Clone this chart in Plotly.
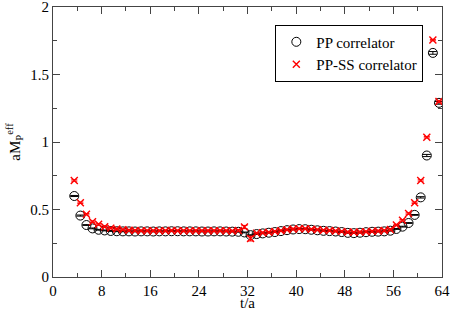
import plotly.graph_objects as go

t = [i + 0.5 for i in range(3, 64)]

pp = [0.600, 0.455, 0.385, 0.360, 0.350, 0.345, 0.341, 0.339, 0.338, 0.338,
      0.337, 0.338, 0.338, 0.337, 0.338, 0.338, 0.339, 0.339, 0.338, 0.338,
      0.338, 0.337, 0.337, 0.338, 0.338, 0.337, 0.336, 0.335, 0.330, 0.310,
      0.318, 0.323, 0.328, 0.333, 0.340, 0.347, 0.352, 0.355, 0.354, 0.350,
      0.346, 0.342, 0.340, 0.337, 0.333, 0.327, 0.325, 0.328, 0.332, 0.335,
      0.336, 0.338, 0.343, 0.356, 0.373, 0.400, 0.460, 0.590, 0.900, 1.660,
      1.290]
pp_err = [0.004, 0.004] + [0.003] * 55 + [0.005, 0.008, 0.010, 0.010]

ppss = [0.715, 0.550, 0.465, 0.410, 0.390, 0.373, 0.362, 0.355, 0.350, 0.346,
        0.344, 0.343, 0.343, 0.342, 0.343, 0.343, 0.344, 0.343, 0.343, 0.342,
        0.343, 0.342, 0.342, 0.343, 0.343, 0.342, 0.341, 0.345, 0.370, 0.285,
        0.325, 0.328, 0.332, 0.337, 0.343, 0.350, 0.355, 0.358, 0.357, 0.354,
        0.350, 0.346, 0.344, 0.341, 0.338, 0.333, 0.331, 0.333, 0.336, 0.339,
        0.341, 0.344, 0.352, 0.385, 0.420, 0.470, 0.550, 0.715, 1.035, 1.755,
        1.300]
ppss_err = [0.005] * 28 + [0.012, 0.018] + [0.005] * 31

xticks = [0, 8, 16, 24, 32, 40, 48, 56, 64]
yticks = [0, 0.5, 1, 1.5, 2]
ytick_labels = ["0", "0.5", "1", "1.5", "2"]

FONT = "Liberation Serif"

fig = go.Figure()
fig.add_trace(go.Scatter(
    x=t, y=pp, mode="markers", name="PP correlator",
    marker=dict(symbol="circle-open", size=9, color="black", line=dict(width=1)),
    error_y=dict(type="data", array=pp_err, visible=True, color="black",
                 thickness=1, width=4),
))
fig.add_trace(go.Scatter(
    x=t, y=ppss, mode="markers", name="PP-SS correlator",
    marker=dict(symbol="x-thin-open", size=7, color="red", line=dict(width=1.4, color="red")),
    error_y=dict(type="data", array=ppss_err, visible=True, color="red",
                 thickness=1, width=3),
))

axis_common = dict(
    showgrid=False, zeroline=False, showline=True, linecolor="#444", linewidth=1,
    mirror="ticks", ticks="inside", tickcolor="#444", ticklen=7, tickwidth=1,
    tickfont=dict(family=FONT, size=15, color="black"), automargin=False,
    ticklabeloverflow="allow",
)

fig.update_xaxes(
    range=[0, 64], tickvals=xticks, ticktext=[str(v) for v in xticks],
    minor=dict(dtick=4, ticklen=4, ticks="inside", tickcolor="#444", tick0=0),
    **axis_common,
)
fig.update_yaxes(
    range=[0, 2], tickvals=yticks, ticktext=ytick_labels,
    minor=dict(dtick=0.25, ticklen=4, ticks="inside", tickcolor="#444", tick0=0),
    title=dict(text="aM<sub>P</sub><sup>eff</sup>", font=dict(family=FONT, size=15, color="black"), standoff=6),
    **axis_common,
)

fig.add_annotation(
    text="t/a", xref="paper", yref="paper", x=0.5, y=-0.095,
    xanchor="center", yanchor="middle", showarrow=False,
    font=dict(family=FONT, size=15, color="black"),
)

fig.update_layout(
    width=452, height=311,
    margin=dict(l=53, r=10, t=7, b=34, autoexpand=False),
    paper_bgcolor="white", plot_bgcolor="white",
    font=dict(family=FONT, color="black"),
    showlegend=True,
    legend=dict(
        x=0.952, y=0.935, xanchor="right", yanchor="top",
        bgcolor="white", bordercolor="black", borderwidth=1,
        font=dict(family=FONT, size=15, color="black"),
        tracegroupgap=0, itemwidth=30,
    ),
)

fig.write_html(
    "out.html",
    config={"displayModeBar": False},
    post_script="document.body.style.margin='0';document.body.style.padding='0';",
)
